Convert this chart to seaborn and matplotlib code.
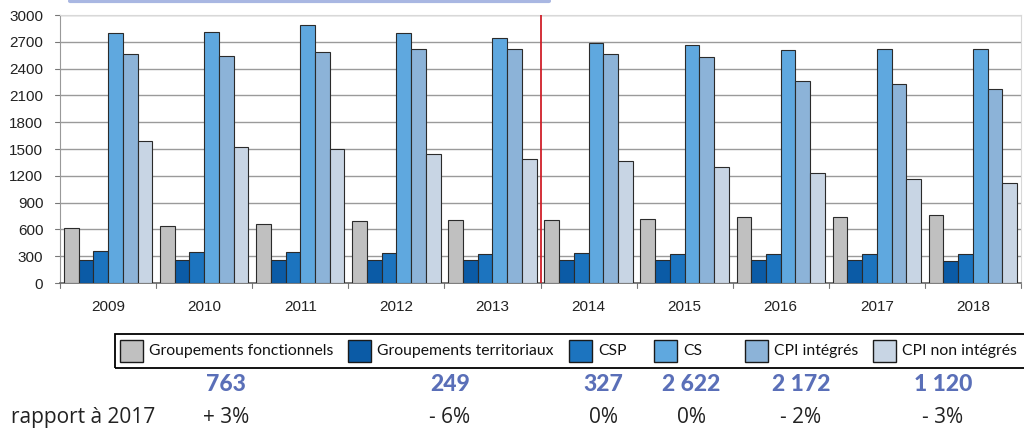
import pandas as pd
import matplotlib
matplotlib.use("Agg")
import matplotlib.pyplot as plt
from matplotlib.lines import Line2D
from matplotlib.patches import Rectangle
import seaborn as sns

# data
years = ["2009", "2010", "2011", "2012", "2013", "2014", "2015", "2016", "2017", "2018"]
series = ["Groupements fonctionnels", "Groupements territoriaux", "CSP", "CS",
          "CPI intégrés", "CPI non intégrés"]
grp_fonct = [615, 640, 665, 690, 700, 710, 712, 735, 737, 763]
grp_terr = [262, 262, 262, 262, 262, 262, 262, 262, 262, 249]
csp = [355, 345, 350, 335, 325, 335, 327, 327, 327, 327]
cs = [2795, 2805, 2890, 2795, 2745, 2685, 2660, 2610, 2622, 2622]
cpi_int = [2565, 2540, 2585, 2615, 2615, 2560, 2535, 2265, 2225, 2172]
cpi_non = [1585, 1520, 1505, 1445, 1390, 1370, 1300, 1235, 1160, 1120]
colors = ["#c0c0c0", "#0b5ba6", "#1c74bf", "#5fa8df", "#8cb3d8", "#c8d5e4"]

totals_2018 = ["763", "249", "327", "2 622", "2 172", "1 120"]
evol = ["+ 3%", "- 6%", "0%", "0%", "- 2%", "- 3%"]

df = pd.DataFrame({"Année": years * 6,
                   "Série": [s for s in series for _ in years],
                   "Valeur": grp_fonct + grp_terr + csp + cs + cpi_int + cpi_non})

W, H = 1024, 436


def fx(px):
    return px / W


def fy(py):
    return 1 - py / H


sns.set_style("white")
plt.rcParams["font.family"] = ["Liberation Sans", "DejaVu Sans"]

fig = plt.figure(figsize=(10.24, 4.36), dpi=100)
ax = fig.add_axes([fx(60), fy(283), fx(961), 268 / H])

sns.barplot(data=df, x="Année", y="Valeur", hue="Série", palette=colors,
            width=0.92, edgecolor="#2b2b2b", linewidth=0.8, saturation=1,
            ax=ax, zorder=3, legend=False)

ax.set_ylim(0, 3000)
ax.set_xlim(-0.5, 9.5)
ax.set_yticks(range(0, 3001, 300))
ax.yaxis.grid(True, color="#9a9a9a", linewidth=1, zorder=0)
ax.set_xlabel("")
ax.set_ylabel("")
ax.tick_params(axis="both", labelsize=11, colors="#222222", length=0)
ax.tick_params(axis="y", pad=12)
ax.tick_params(axis="x", pad=12)
for sp in ["top", "right"]:
    ax.spines[sp].set_color("#d8d8d8")
ax.spines["left"].set_color("#999999")
ax.spines["bottom"].set_color("#666666")
ax.spines["bottom"].set_linewidth(1.2)
ax.set_axisbelow(True)

# group separator ticks below the axis, small ticks left of the y axis
for b in range(0, 11):
    ax.plot([b - 0.5, b - 0.5], [0, -60], color="#777777", lw=0.8, clip_on=False)
for v in range(0, 3001, 300):
    ax.plot([-0.555, -0.5], [v, v], color="#777777", lw=0.8, clip_on=False)

# red separator between 2013 and 2014
ax.axvline(4.5, color="#d0202a", lw=1.3, zorder=4)

# legend strip at the bottom, laid out like the original
fig.add_artist(Rectangle((fx(115), fy(368)), fx(1030) - fx(115), fy(334) - fy(368),
                         transform=fig.transFigure, fill=False, edgecolor="black",
                         lw=1.3, clip_on=False))
patch_x = [120, 348, 569, 654, 745, 873]
for px, lab, col in zip(patch_x, series, colors):
    fig.add_artist(Rectangle((fx(px), fy(362)), 23 / W, 22 / H, transform=fig.transFigure,
                             facecolor=col, edgecolor="#1a1a1a", lw=1.0))
    fig.text(fx(px + 29), fy(351), lab, ha="left", va="center", fontsize=11.3,
             color="#111111", family=["Lato", "DejaVu Sans"])

# 2018 totals and change vs 2017
tot_x = [226, 450, 603, 691, 801, 943]
for x, t, e in zip(tot_x, totals_2018, evol):
    fig.text(fx(x), fy(384), t, ha="center", va="center", fontsize=16.5,
             fontweight="black", color="#5a6fb8", family=["Lato", "DejaVu Sans"])
    fig.text(fx(x), fy(417), e, ha="center", va="center", fontsize=15,
             color="#222222", family=["Open Sans", "DejaVu Sans"])
fig.text(fx(155), fy(417), "rapport à 2017", ha="right", va="center",
         fontsize=15, color="#222222", family=["Open Sans", "DejaVu Sans"])

# light blue rule at the top
fig.add_artist(Line2D([fx(70), fx(549)], [fy(1.5), fy(1.5)], color="#a9b7e2", lw=3))

fig.savefig("out.png", dpi=100)
